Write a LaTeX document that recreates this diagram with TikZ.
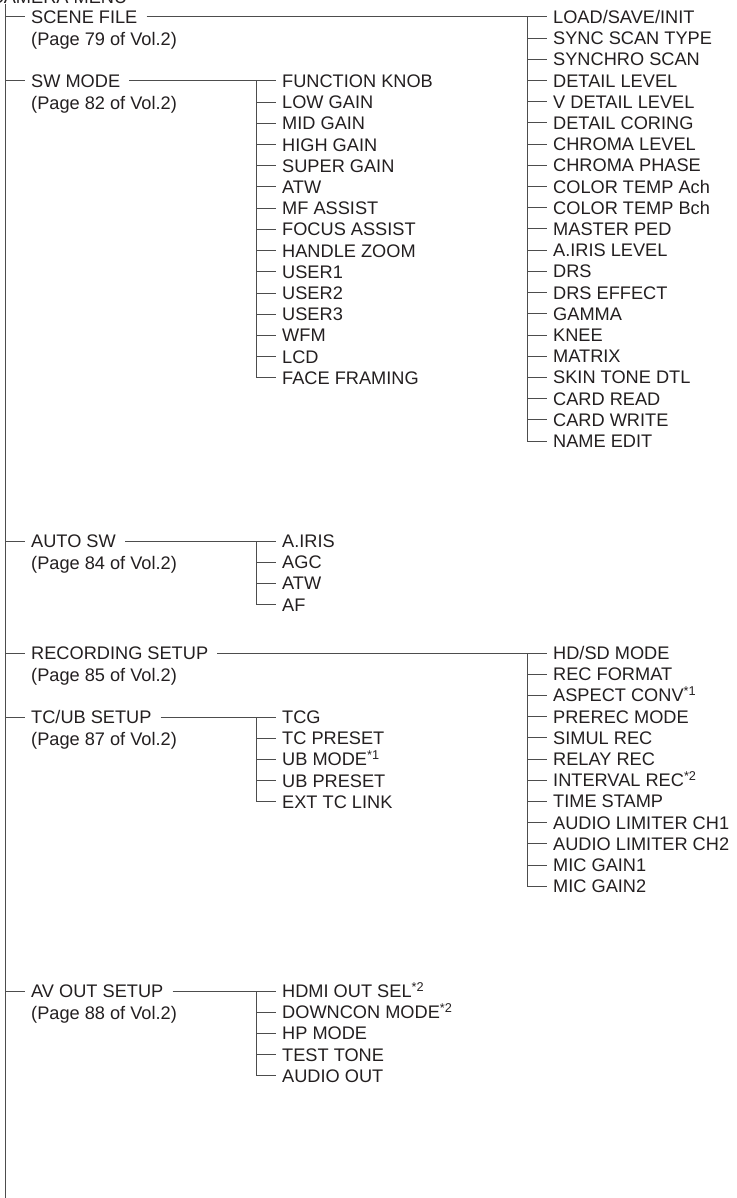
\documentclass[tikz,border=0pt]{standalone}
\usepackage{fontspec}
\setmainfont{Liberation Sans}
\usetikzlibrary{positioning}
\definecolor{MenuLine}{HTML}{4D4D4D}
\definecolor{MenuText}{HTML}{231F20}

\tikzset{
  item/.style={anchor=west,inner sep=0pt,text height=13pt,text depth=0pt,text=MenuText},
  branch/.style={draw=MenuLine,line width=1pt},
}

\begin{document}
\begin{tikzpicture}[x=1pt,y=-1pt,font=\fontsize{18.2}{21.2}\selectfont]
\useasboundingbox (0,0) rectangle (736,1198);
% root and trunk
\node[item,anchor=base west] (root) at (-9.5,4) {CAMERA MENU};
\coordinate (trunk) at (5,1198);
\draw[branch] (root.south -| trunk) -- (trunk);
% first level
\foreach \g/\t/\p/\y in {sc/SCENE FILE/79/17,sw/SW MODE/82/81,au/AUTO SW/84/541,
  rec/RECORDING SETUP/85/653,tc/{TC/UB SETUP}/87/717,av/AV OUT SETUP/88/991}{
  \node[item] (\g) at (31,\y) {\t};
  \node[item,below right=8.2pt and 0pt of \g.south west] (\g-pg) {(Page \p\ of Vol.2)};
  \draw[branch,shorten >=6pt] (trunk |- \g.west) -- (\g.west);
}
% second level
\foreach \g/\bx/\list in {
  sc/527/{{LOAD/SAVE/INIT},SYNC SCAN TYPE,SYNCHRO SCAN,DETAIL LEVEL,V DETAIL LEVEL,DETAIL CORING,
    CHROMA LEVEL,CHROMA PHASE,COLOR TEMP Ach,COLOR TEMP Bch,MASTER PED,A.IRIS LEVEL,DRS,
    DRS EFFECT,GAMMA,KNEE,MATRIX,SKIN TONE DTL,CARD READ,CARD WRITE,NAME EDIT},
  sw/256/{FUNCTION KNOB,LOW GAIN,MID GAIN,HIGH GAIN,SUPER GAIN,ATW,MF ASSIST,FOCUS ASSIST,
    HANDLE ZOOM,USER1,USER2,USER3,WFM,LCD,FACE FRAMING},
  au/256/{A.IRIS,AGC,ATW,AF},
  rec/527/{{HD/SD MODE},REC FORMAT,ASPECT CONV\textsuperscript{*1},PREREC MODE,SIMUL REC,RELAY REC,
    INTERVAL REC\textsuperscript{*2},TIME STAMP,AUDIO LIMITER CH1,AUDIO LIMITER CH2,MIC GAIN1,MIC GAIN2},
  tc/256/{TCG,TC PRESET,UB MODE\textsuperscript{*1},UB PRESET,EXT TC LINK},
  av/256/{HDMI OUT SEL\textsuperscript{*2},DOWNCON MODE\textsuperscript{*2},HP MODE,TEST TONE,AUDIO OUT}}{
  \coordinate (\g-bus) at (\bx,0 |- \g.west);
  \draw[branch,shorten <=9pt] (\g.east) -- (\g-bus);
  \foreach \t [count=\i from 0] in \list {
    \node[item] (\g-\i) at ([xshift=26pt,yshift=-21.2*\i pt]\g-bus) {\t};
    \draw[branch] (\g-bus) |- ([xshift=-6pt]\g-\i.west);
  }
}
\end{tikzpicture}
\end{document}
